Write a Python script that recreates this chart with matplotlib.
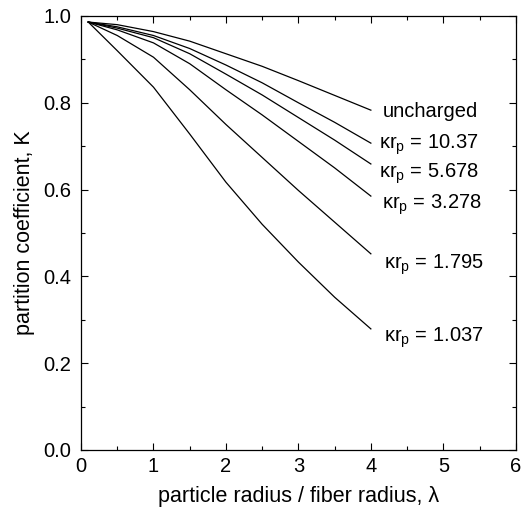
import matplotlib
matplotlib.use("Agg")
import matplotlib.pyplot as plt
from matplotlib.ticker import MultipleLocator, FormatStrFormatter

plt.rcParams['font.family'] = ['Liberation Sans', 'DejaVu Sans']
plt.rcParams['mathtext.fontset'] = 'custom'
plt.rcParams['mathtext.rm'] = 'Liberation Sans'

# ===== data =====
lam = [0.1, 0.5, 1.0, 1.5, 2.0, 2.5, 3.0, 3.5, 4.0]
K_uncharged = [0.986, 0.980, 0.964, 0.942, 0.913, 0.884, 0.851, 0.817, 0.783]
K_1037 = [0.986, 0.975, 0.955, 0.925, 0.887, 0.846, 0.800, 0.755, 0.707]
K_5678 = [0.986, 0.972, 0.950, 0.913, 0.866, 0.818, 0.766, 0.714, 0.659]
K_3278 = [0.986, 0.968, 0.938, 0.890, 0.830, 0.772, 0.711, 0.650, 0.585]
K_1795 = [0.986, 0.955, 0.905, 0.830, 0.750, 0.674, 0.598, 0.525, 0.452]
K_1p037 = [0.986, 0.920, 0.836, 0.728, 0.617, 0.520, 0.433, 0.352, 0.279]

curves = [K_uncharged, K_1037, K_5678, K_3278, K_1795, K_1p037]
labels = ['uncharged',
          'κr$_\\mathregular{p}$ = 10.37',
          'κr$_\\mathregular{p}$ = 5.678',
          'κr$_\\mathregular{p}$ = 3.278',
          'κr$_\\mathregular{p}$ = 1.795',
          'κr$_\\mathregular{p}$ = 1.037']
# label anchor (λ, K)
label_x = [4.17, 4.11, 4.11, 4.15, 4.18, 4.18]
label_y = [0.781, 0.703, 0.636, 0.565, 0.427, 0.259]

fig = plt.figure(figsize=(5.21, 5.17), dpi=100)
ax = fig.add_axes([0.1555, 0.1296, 0.8345, 0.8395])

for K in curves:
    ax.plot(lam, K, color='black', linewidth=0.9)
for t, x, y in zip(labels, label_x, label_y):
    ax.text(x, y, t, fontsize=14.5, ha='left', va='center')

ax.set_xlim(0, 6)
ax.set_ylim(0, 1.0)
ax.xaxis.set_major_locator(MultipleLocator(1))
ax.xaxis.set_minor_locator(MultipleLocator(0.5))
ax.yaxis.set_major_locator(MultipleLocator(0.2))
ax.yaxis.set_minor_locator(MultipleLocator(0.1))
ax.yaxis.set_major_formatter(FormatStrFormatter('%.1f'))
ax.tick_params(which='both', direction='in', top=True, right=True, labelsize=14.5)
ax.tick_params(which='major', length=5, width=0.8)
ax.tick_params(which='minor', length=3, width=0.8)
ax.tick_params(axis='x', which='major', pad=5)
ax.tick_params(axis='y', which='major', pad=7)
for s in ax.spines.values():
    s.set_linewidth(0.9)

ax.set_xlabel('particle radius / fiber radius, λ', fontsize=15.5, labelpad=7)
ax.set_ylabel('partition coefficient, K', fontsize=15.5, labelpad=6)

fig.savefig('out.png', dpi=100)
